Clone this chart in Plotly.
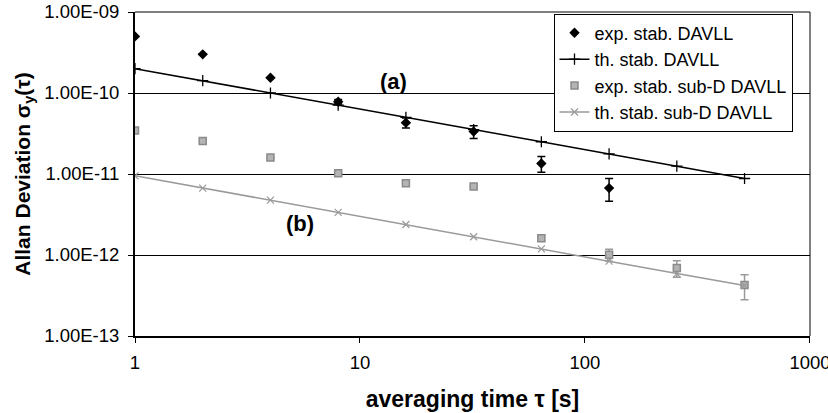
import plotly.graph_objects as go

tau = [1, 2, 4, 8, 16, 32, 64, 128, 256, 512]

exp_davll_tau = [1, 2, 4, 8, 16, 32, 64, 128]
exp_davll = [5.0e-10, 3.0e-10, 1.54e-10, 7.8e-11, 4.3e-11, 3.35e-11, 1.35e-11, 6.7e-12]
exp_davll_err = [0.0, 0.0, 0.0, 0.5e-11, 0.6e-11, 0.6e-11, 0.3e-11, 2.1e-12]

th_davll = [2.0e-10, 1.42e-10, 1.0e-10, 7.07e-11, 5.0e-11, 3.54e-11, 2.5e-11, 1.77e-11, 1.25e-11, 8.8e-12]

exp_subd = [3.45e-11, 2.55e-11, 1.6e-11, 1.02e-11, 7.7e-12, 7.0e-12, 1.61e-12, 1.01e-12, 6.9e-13, 4.25e-13]
exp_subd_err = [0.0, 0.0, 0.0, 0.0, 0.0, 0.0, 0.1e-12, 0.17e-12, 1.6e-13, 1.45e-13]

th_subd = [9.5e-12, 6.7e-12, 4.75e-12, 3.36e-12, 2.38e-12, 1.68e-12, 1.19e-12, 8.4e-13, 5.9e-13, 4.2e-13]

y_tickvals = [1e-13, 1e-12, 1e-11, 1e-10, 1e-9]
y_ticktext = ["1.00E-13", "1.00E-12", "1.00E-11", "1.00E-10", "1.00E-09"]
x_tickvals = [1, 10, 100, 1000]
x_ticktext = ["1", "10", "100", "1000"]

GRAY = "#9a9a9a"
FONT = "Liberation Sans, Arial, sans-serif"

fig = go.Figure()

fig.add_trace(go.Scatter(
    x=exp_davll_tau, y=exp_davll, mode="markers", name="exp. stab. DAVLL",
    marker=dict(symbol="diamond", size=8, color="black"),
    error_y=dict(type="data", array=exp_davll_err, color="black", thickness=1.5, width=4),
))
fig.add_trace(go.Scatter(
    x=tau, y=th_davll, mode="lines+markers", name="th. stab. DAVLL",
    line=dict(color="black", width=1.5),
    marker=dict(symbol="cross-thin", size=8, color="black", line=dict(color="black", width=1.3)),
))
fig.add_trace(go.Scatter(
    x=tau, y=exp_subd, mode="markers", name="exp. stab. sub-D DAVLL",
    marker=dict(symbol="square", size=7, color="#b4b4b4", line=dict(color="#8a8a8a", width=1.5)),
    error_y=dict(type="data", array=exp_subd_err, color=GRAY, thickness=1.5, width=4),
))
fig.add_trace(go.Scatter(
    x=tau, y=th_subd, mode="lines+markers", name="th. stab. sub-D DAVLL",
    line=dict(color=GRAY, width=1.5),
    marker=dict(symbol="x-thin", size=7, color=GRAY, line=dict(color=GRAY, width=1.2)),
))

fig.add_annotation(x=1.148, y=-9.863, xref="x", yref="y", text="<b>(a)</b>", showarrow=False,
                   font=dict(size=22, color="black", family=FONT))
fig.add_annotation(x=0.734, y=-11.61, xref="x", yref="y", text="<b>(b)</b>", showarrow=False,
                   font=dict(size=22, color="black", family=FONT))

# plot area border (top and right)
fig.add_shape(type="line", xref="paper", yref="paper", x0=0, x1=1, y0=1, y1=1,
              line=dict(color="black", width=1))
fig.add_shape(type="line", xref="paper", yref="paper", x0=1, x1=1, y0=0, y1=1,
              line=dict(color="black", width=1))

fig.update_layout(
    width=828, height=413,
    margin=dict(l=135, r=18, t=12, b=77),
    plot_bgcolor="white", paper_bgcolor="white",
    font=dict(family=FONT, color="black", size=18),
    showlegend=True,
    legend=dict(x=0.62, y=0.995, xanchor="left", yanchor="top",
                bgcolor="white", bordercolor="black", borderwidth=1,
                font=dict(size=18, family=FONT), tracegroupgap=0,
                itemwidth=30),
    xaxis=dict(type="log", range=[0, 3.0002], tickvals=x_tickvals, ticktext=x_ticktext,
               showgrid=False, zeroline=False, showline=True, linecolor="black", linewidth=2,
               ticks="outside", ticklen=5, tickcolor="black", tickwidth=1,
               ticklabelstandoff=4, ticklabeloverflow="allow",
               tickfont=dict(size=18.5), automargin=False,
               title=dict(text="<b>averaging time τ [s]</b>", font=dict(size=23), standoff=19)),
    yaxis=dict(type="log", range=[-13, -9], tickvals=y_tickvals, ticktext=y_ticktext,
               showgrid=True, gridcolor="black", gridwidth=1, zeroline=False,
               showline=True, linecolor="black", linewidth=2,
               ticks="outside", ticklen=5, tickcolor="black", tickwidth=1,
               ticklabelstandoff=5, ticklabeloverflow="allow",
               tickfont=dict(size=18.5), automargin=False,
               title=dict(text="<b>Allan Deviation σ<sub>y</sub>(τ)</b>", font=dict(size=21), standoff=8)),
)

fig.write_html("out.html", post_script="document.body.style.margin='0';",
               config={"displayModeBar": False})
